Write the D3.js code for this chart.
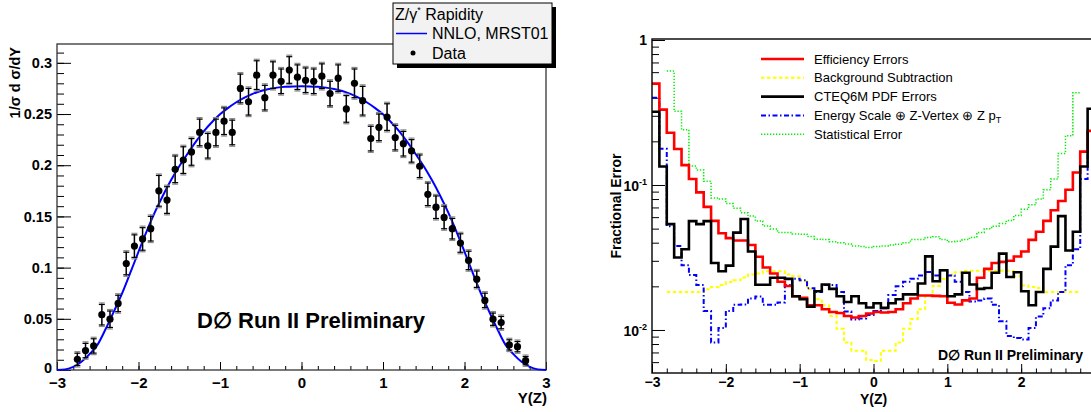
<!DOCTYPE html>
<html>
<head>
<meta charset="utf-8">
<script src="https://cdn.jsdelivr.net/npm/d3@7/dist/d3.min.js"></script>
<style>
body { margin: 0; background: #fff; }
svg { display: block; font-family: "Liberation Sans", Arial, sans-serif; }
</style>
</head>
<body>
<svg id="chart" width="1091" height="412"></svg>
<script>
// ---- left plot: Z/gamma* rapidity, normalised ----
var dataY = [-2.75,-2.65,-2.55,-2.45,-2.35,-2.25,-2.15,-2.05,-1.95,-1.85,-1.75,-1.65,-1.55,-1.45,-1.35,-1.25,-1.15,-1.05,-0.95,-0.85,-0.75,-0.65,-0.55,-0.45,-0.35,-0.25,-0.15,-0.05,
             0.05,0.15,0.25,0.35,0.45,0.55,0.65,0.75,0.85,0.95,1.05,1.15,1.25,1.35,1.45,1.55,1.65,1.75,1.85,1.95,2.05,2.15,2.25,2.35,2.45,2.55,2.65,2.75];
var dataVal = [0.0104,0.019,0.0235,0.054,0.0496,0.065,0.104,0.121,0.128,0.138,0.175,0.166,0.196,0.205,0.213,0.232,0.219,0.232,0.243,0.232,0.275,0.262,0.288,0.266,0.288,0.282,0.293,0.286,
               0.283,0.282,0.287,0.270,0.285,0.255,0.280,0.263,0.226,0.237,0.247,0.227,0.221,0.214,0.199,0.1716,0.159,0.149,0.138,0.124,0.107,0.0887,0.068,0.0496,0.0463,0.0245,0.0228,0.0091];
var errStat = [0.006,0.007,0.007,0.010,0.008,0.008,0.011,0.011,0.011,0.012,0.015,0.013,0.013,0.013,0.013,0.013,0.012,0.013,0.013,0.012,0.014,0.013,0.014,0.012,0.013,0.012,0.013,0.012,
               0.012,0.012,0.012,0.012,0.013,0.013,0.014,0.014,0.012,0.013,0.013,0.012,0.012,0.011,0.011,0.011,0.011,0.011,0.010,0.009,0.009,0.008,0.007,0.006,0.006,0.005,0.005,0.004];
var errTot = [0.0075,0.0085,0.0085,0.0115,0.0095,0.0095,0.0125,0.0125,0.0125,0.0135,0.0165,0.0145,0.0145,0.0145,0.0145,0.0145,0.0135,0.0145,0.0145,0.0135,0.0155,0.0145,0.0155,0.0135,0.0145,0.0135,0.0145,0.0135,
              0.0135,0.0135,0.0135,0.0135,0.0145,0.0145,0.0155,0.0155,0.0135,0.0145,0.0145,0.0135,0.0135,0.0125,0.0125,0.0125,0.0125,0.0125,0.0115,0.0105,0.0105,0.0095,0.0085,0.0075,0.0075,0.0065,0.0065,0.0055];
var curveX = [-3.0,-2.9,-2.8,-2.7,-2.6,-2.5,-2.4,-2.3,-2.2,-2.1,-2.0,-1.9,-1.8,-1.7,-1.6,-1.5,-1.4,-1.3,-1.2,-1.1,-1.0,-0.9,-0.8,-0.7,-0.6,-0.5,-0.4,-0.3,-0.2,-0.1,
              0.0,0.1,0.2,0.3,0.4,0.5,0.6,0.7,0.8,0.9,1.0,1.1,1.2,1.3,1.4,1.5,1.6,1.7,1.8,1.9,2.0,2.1,2.2,2.3,2.4,2.5,2.6,2.7,2.8,2.9,3.0];
var curveVal = [0,0.0006,0.003,0.008,0.0155,0.025,0.0405,0.0575,0.075,0.095,0.1155,0.1355,0.154,0.1705,0.1855,0.199,0.211,0.2225,0.233,0.242,0.2497,0.256,0.2615,0.266,0.2697,0.2725,0.2745,0.2758,0.2766,0.277,
                0.2771,0.277,0.2766,0.2758,0.2745,0.2725,0.2697,0.266,0.2615,0.256,0.2497,0.242,0.233,0.2225,0.211,0.199,0.1855,0.1705,0.154,0.1355,0.1155,0.095,0.075,0.0575,0.0405,0.025,0.0155,0.008,0.003,0.0006,0];
var leftYTicks = [0,0.05,0.1,0.15,0.2,0.25,0.3];
var leftYLabels = ["0","0.05","0.1","0.15","0.2","0.25","0.3"];
var xTicks = [-3,-2,-1,0,1,2,3];

// ---- right plot: fractional errors, bins of 0.1 in Y(Z) from -3 to 3 ----
var binEdges = [-3.0,-2.9,-2.8,-2.7,-2.6,-2.5,-2.4,-2.3,-2.2,-2.1,-2.0,-1.9,-1.8,-1.7,-1.6,-1.5,-1.4,-1.3,-1.2,-1.1,-1.0,-0.9,-0.8,-0.7,-0.6,-0.5,-0.4,-0.3,-0.2,-0.1,
                0.0,0.1,0.2,0.3,0.4,0.5,0.6,0.7,0.8,0.9,1.0,1.1,1.2,1.3,1.4,1.5,1.6,1.7,1.8,1.9,2.0,2.1,2.2,2.3,2.4,2.5,2.6,2.7,2.8,2.9,3.0];
var effErr = [0.50,0.331,0.229,0.177,0.137,0.110,0.089,0.0706,0.0566,0.0465,0.043,0.0414,0.0414,0.0386,0.032,0.027,0.0245,0.0215,0.0201,0.0171,0.0167,0.0148,0.0148,0.0139,0.0133,0.0131,0.0125,0.0122,0.0125,0.0130,
              0.0133,0.0132,0.0133,0.0139,0.0153,0.0165,0.0173,0.0173,0.0172,0.0171,0.0154,0.0150,0.0160,0.0165,0.0229,0.0264,0.029,0.0295,0.030,0.0321,0.0348,0.0418,0.0476,0.0566,0.067,0.0775,0.0927,0.122,0.170,0.236];
var bkgErr = [null,null,0.0183,0.0183,0.0183,0.0183,0.0183,0.0191,0.0198,0.0204,0.0214,0.022,0.023,0.0241,0.0245,0.0254,0.0254,0.0254,0.0241,0.0235,0.0217,0.0191,0.0163,0.0148,0.0125,0.0102,0.0082,0.0072,0.0072,0.0062,
              0.0061,0.0072,0.0072,0.0082,0.0102,0.0119,0.0139,0.0171,0.0201,0.0225,0.0241,0.025,0.0256,0.0256,0.0256,0.0256,0.0256,0.0256,0.0256,0.0235,0.0203,0.0198,0.0195,0.0183,0.0183,0.0183,0.0183,0.0183,null,null];
var pdfErr = [0.32,0.134,0.0537,0.0316,0.036,0.0563,0.0537,0.0563,0.029,0.0254,0.0278,0.0469,0.0582,0.0348,0.0205,0.0205,0.0229,0.0229,0.0225,0.0171,0.0163,0.0145,0.0185,0.0206,0.0192,0.0171,0.0156,0.0171,0.0153,0.0143,
              0.0153,0.0142,0.0153,0.0163,0.0176,0.0176,0.0209,0.0322,0.0217,0.0258,0.0171,0.0176,0.0248,0.0206,0.0192,0.0195,0.0248,0.0336,0.0232,0.025,0.0185,0.0148,0.0183,0.0264,0.0376,0.061,0.0353,0.0476,0.134,0.336];
var scaleErr = [0.40,0.178,0.052,0.038,0.0279,0.0239,0.0204,0.0135,0.0082,0.0103,0.0135,0.0149,0.015,0.0165,0.017,0.0149,0.0149,0.0155,0.0204,0.0226,0.022,0.0194,0.0183,0.0204,0.0204,0.0183,0.0134,0.0118,0.012,0.0127,
                0.0135,0.0141,0.0174,0.020,0.0215,0.0226,0.0238,0.0251,0.0238,0.0258,0.0238,0.0215,0.0183,0.0157,0.016,0.0165,0.0149,0.0115,0.0091,0.0088,0.0086,0.0103,0.0124,0.0141,0.016,0.0183,0.028,0.036,0.11,0.23];
var statErr = [null,null,0.611,0.322,0.240,0.135,0.127,0.106,0.0813,0.080,0.0744,0.069,0.0643,0.061,0.0564,0.0522,0.0497,0.047,0.047,0.046,0.0458,0.0442,0.0423,0.042,0.0406,0.040,0.0392,0.038,0.0377,0.037,
               0.0377,0.038,0.0385,0.039,0.040,0.042,0.042,0.0435,0.044,0.042,0.0406,0.041,0.042,0.0435,0.047,0.050,0.052,0.0543,0.057,0.0616,0.068,0.073,0.080,0.0926,0.11,0.165,0.219,0.432,null,null];
var legendNames = ["Efficiency Errors","Background Subtraction","CTEQ6M PDF Errors","Energy Scale \u2295 Z-Vertex \u2295 Z p","Statistical Error"];

var svg = d3.select("#chart");
svg.append("rect").attr("width",1091).attr("height",412).attr("fill","#fff");

// ================= LEFT PANEL =================
var xL = d3.scaleLinear().domain([-3,3]).range([57,546]);
var yL = d3.scaleLinear().domain([0,0.3184]).range([370,44]);
var gL = svg.append("g");

function styleAxis(g){
  g.select(".domain").remove();
  g.selectAll(".tick line").attr("stroke","#000").attr("stroke-width",1);
}

// minor ticks
gL.append("g").attr("transform","translate(57,0)")
  .call(d3.axisLeft(yL).tickValues(d3.range(0,0.3101,0.01)).tickSize(-7).tickFormat(""))
  .call(styleAxis);
gL.append("g").attr("transform","translate(0,370)")
  .call(d3.axisBottom(xL).tickValues(d3.range(-3,3.01,0.2)).tickSize(-4).tickFormat(""))
  .call(styleAxis);
// major ticks + labels
var yAx = gL.append("g").attr("transform","translate(57,0)")
  .call(d3.axisLeft(yL).tickValues(leftYTicks).tickSize(-14).tickPadding(5)
        .tickFormat(function(d,i){ return leftYLabels[i]; }))
  .call(styleAxis);
yAx.selectAll("text").attr("font-size",14.5).attr("font-weight","bold").attr("fill","#000");
yAx.selectAll("text").filter(function(d){ return d === 0; }).attr("dy","0.2em");
var xAx = gL.append("g").attr("transform","translate(0,370)")
  .call(d3.axisBottom(xL).tickValues(xTicks).tickSize(-8).tickPadding(7).tickFormat(d3.format("d")))
  .call(styleAxis);
xAx.selectAll("text").attr("font-size",15).attr("font-weight","bold").attr("fill","#000");

// frame
gL.append("rect").attr("x",57).attr("y",44).attr("width",489).attr("height",326)
  .attr("fill","none").attr("stroke","#333").attr("stroke-width",1.3);

// theory curve
var line = d3.line().x(function(d){return xL(d[0]);}).y(function(d){return yL(d[1]);}).curve(d3.curveMonotoneX);
gL.append("path").datum(curveX.map(function(x,i){return [x,curveVal[i]];}))
  .attr("d",line).attr("fill","none").attr("stroke","#0000ff").attr("stroke-width",2);

// data with error bars
var pts = gL.append("g").selectAll("g").data(dataY).enter().append("g");
pts.append("line").attr("x1",function(d){return xL(d);}).attr("x2",function(d){return xL(d);})
  .attr("y1",function(d,i){return yL(dataVal[i]-errTot[i]);}).attr("y2",function(d,i){return yL(dataVal[i]+errTot[i]);})
  .attr("stroke","#888").attr("stroke-width",1.5);
pts.append("line").attr("x1",function(d){return xL(d);}).attr("x2",function(d){return xL(d);})
  .attr("y1",function(d,i){return yL(dataVal[i]-errStat[i]);}).attr("y2",function(d,i){return yL(dataVal[i]+errStat[i]);})
  .attr("stroke","#000").attr("stroke-width",1.3);
[[errTot,"#888"],[errStat,"#000"]].forEach(function(e){
  [-1,1].forEach(function(s){
    pts.append("line").attr("x1",function(d){return xL(d)-3;}).attr("x2",function(d){return xL(d)+3;})
      .attr("y1",function(d,i){return yL(dataVal[i]+s*e[0][i]);}).attr("y2",function(d,i){return yL(dataVal[i]+s*e[0][i]);})
      .attr("stroke",e[1]).attr("stroke-width",1.2);
  });
});
pts.append("circle").attr("cx",function(d){return xL(d);}).attr("cy",function(d,i){return yL(dataVal[i]);})
  .attr("r",3.6).attr("fill","#000");

// titles
gL.append("text").attr("transform","translate(20,47) rotate(-90)").attr("text-anchor","end")
  .attr("font-size",14.5).attr("font-weight","bold").text("1/\u03c3  d \u03c3/dY");
gL.append("text").attr("x",547).attr("y",403).attr("text-anchor","end")
  .attr("font-size",15).attr("font-weight","bold").text("Y(Z)");
gL.append("text").attr("x",197).attr("y",328).attr("font-size",22).attr("font-weight","bold")
  .text("D\u2205 Run II Preliminary");

// legend box
var lg = svg.append("g");
lg.append("rect").attr("x",397).attr("y",7).attr("width",159).attr("height",61).attr("fill","#000");
lg.append("rect").attr("x",393).attr("y",3).attr("width",159).attr("height",61).attr("fill","#f2f2f2")
  .attr("stroke","#000").attr("stroke-width",1);
var t0 = lg.append("text").attr("x",395).attr("y",20).attr("font-size",16);
t0.append("tspan").text("Z/\u03b3");
t0.append("tspan").attr("font-size",9).attr("dy",-7).text("*");
t0.append("tspan").attr("dy",7).text(" Rapidity");
lg.append("line").attr("x1",396).attr("x2",427).attr("y1",33.5).attr("y2",33.5).attr("stroke","#0000ff").attr("stroke-width",1.5);
lg.append("text").attr("x",432).attr("y",39).attr("font-size",16).text("NNLO, MRST01");
lg.append("circle").attr("cx",413).attr("cy",53).attr("r",2.5).attr("fill","#000");
lg.append("text").attr("x",432).attr("y",58.5).attr("font-size",16).text("Data");

// ================= RIGHT PANEL =================
var xR = d3.scaleLinear().domain([-3,3]).range([652,1095]);
var yR = d3.scaleLog().domain([0.00505,1.016]).range([373,39]);
var gR = svg.append("g");

var minorLog = [];
[0.01,0.1].forEach(function(dec){ for (var k=2;k<=9;k++) minorLog.push(dec*k); });
minorLog = [0.006,0.007,0.008,0.009].concat(minorLog);
gR.append("g").attr("transform","translate(652,0)")
  .call(d3.axisLeft(yR).tickValues(minorLog).tickSize(-7).tickFormat(""))
  .call(styleAxis);
gR.append("g").attr("transform","translate(652,0)")
  .call(d3.axisLeft(yR).tickValues([0.01,0.1,1]).tickSize(-13).tickFormat(""))
  .call(styleAxis);
gR.append("g").attr("transform","translate(0,373)")
  .call(d3.axisBottom(xR).tickValues(d3.range(-3,3.01,0.2)).tickSize(-4.5).tickFormat(""))
  .call(styleAxis);
var xAxR = gR.append("g").attr("transform","translate(0,373)")
  .call(d3.axisBottom(xR).tickValues(xTicks).tickSize(-9).tickPadding(4).tickFormat(d3.format("d")))
  .call(styleAxis);
xAxR.selectAll("text").attr("font-size",14).attr("font-weight","bold").attr("fill","#000");

// y labels 1, 10^-1, 10^-2
gR.append("text").attr("x",647).attr("y",yR(1)+5).attr("text-anchor","end")
  .attr("font-size",14).attr("font-weight","bold").text("1");
[[0.1,"-1"],[0.01,"-2"]].forEach(function(p){
  var t = gR.append("text").attr("x",647).attr("y",yR(p[0])+6).attr("text-anchor","end")
    .attr("font-size",14).attr("font-weight","bold");
  t.append("tspan").text("10");
  t.append("tspan").attr("font-size",9).attr("dy",-6).text(p[1]);
});

gR.append("text").attr("transform","translate(621,206) rotate(-90)").attr("text-anchor","middle")
  .attr("font-size",14).attr("font-weight","bold").text("Fractional Error");
gR.append("text").attr("x",xR(0)).attr("y",404).attr("text-anchor","middle")
  .attr("font-size",14).attr("font-weight","bold").text("Y(Z)");

// histograms
svg.append("clipPath").attr("id","clipR").append("rect").attr("x",652).attr("y",39).attr("width",443).attr("height",334);
var hg = gR.append("g").attr("clip-path","url(#clipR)");

function histPath(vals){
  var pts = [];
  vals.forEach(function(v,i){
    if (v == null) return;
    pts.push([binEdges[i],v]);
    if (i == vals.length-1 || vals[i+1] == null) pts.push([binEdges[i+1],v]);
  });
  return d3.line().x(function(d){return xR(d[0]);}).y(function(d){return yR(d[1]);}).curve(d3.curveStepAfter)(pts);
}

var series = [
  {vals: statErr,  color:"#00ee00", width:1.5, dash:"1.3,1.7"},
  {vals: bkgErr,   color:"#ffff00", width:2,   dash:"3.5,2.5"},
  {vals: scaleErr, color:"#0000ff", width:2,   dash:"5,2.5,1.5,2.5"},
  {vals: effErr,   color:"#ff0000", width:2.6, dash:null},
  {vals: pdfErr,   color:"#000000", width:2.6, dash:null}
];
series.forEach(function(s){
  hg.append("path").attr("d",histPath(s.vals)).attr("fill","none")
    .attr("stroke",s.color).attr("stroke-width",s.width)
    .attr("stroke-dasharray",s.dash);
});

// frame
gR.append("rect").attr("x",652).attr("y",39).attr("width",443).attr("height",334)
  .attr("fill","none").attr("stroke","#000").attr("stroke-width",1.4);

gR.append("text").attr("x",938).attr("y",360).attr("font-size",14).attr("font-weight","bold")
  .text("D\u2205 Run II Preliminary");

// legend
var legOrder = [3,1,4,2,0];
var lr = gR.append("g");
legOrder.forEach(function(si,k){
  var s = series[si], yy = 59 + k*18.8;
  lr.append("line").attr("x1",761).attr("x2",804).attr("y1",yy).attr("y2",yy)
    .attr("stroke",s.color).attr("stroke-width",s.width).attr("stroke-dasharray",s.dash);
  var t = lr.append("text").attr("x",814).attr("y",yy+4.5).attr("font-size",13).text(legendNames[k]);
  if (k == 3) t.append("tspan").attr("font-size",9).attr("dy",3).text("T");
});
</script>
</body>
</html>
